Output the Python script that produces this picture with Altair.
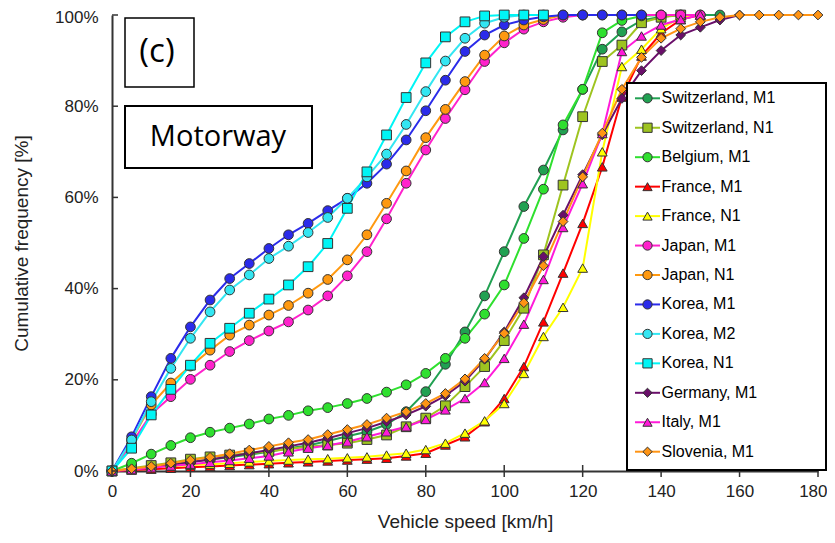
import altair as alt
import pandas as pd

SPEEDS = [0, 5, 10, 15, 20, 25, 30, 35, 40, 45, 50, 55, 60, 65, 70, 75, 80, 85, 90,
          95, 100, 105, 110, 115, 120, 125, 130, 135, 140, 145, 150, 155, 160, 165,
          170, 175, 180]

SERIES = ["Switzerland, M1", "Switzerland, N1", "Belgium, M1", "France, M1", "France, N1",
          "Japan, M1", "Japan, N1", "Korea, M1", "Korea, M2", "Korea, N1",
          "Germany,  M1", "Italy,  M1", "Slovenia,  M1"]
COLORS = ["#21a152", "#9ec420", "#2fe02f", "#ff0000", "#ffff00",
          "#ff22cc", "#ff9910", "#2b2bea", "#33e6f2", "#00f5f5",
          "#6a0f6a", "#ff1ad9", "#ff9414"]
SHAPES = ["circle", "square", "circle", "triangle-up", "triangle-up",
          "circle", "circle", "circle", "circle", "square",
          "diamond", "triangle-up", "diamond"]

SWITZERLAND_M1 = [0, 0.5, 1.0, 1.5, 2.0, 2.5, 3.0, 3.6, 4.2, 5.0, 5.6, 6.6, 7.6, 8.6, 10.2, 13.0,
                  17.4, 23.4, 30.5, 38.4, 48.1, 58.0, 66.0, 74.8, 83.7, 92.5, 96.3, 98.8, 99.6,
                  100, 100, 100]
SWITZERLAND_N1 = [0, 0.6, 1.2, 1.8, 2.6, 3.1, 3.5, 3.9, 4.3, 4.8, 5.3, 5.7, 6.1, 6.9, 7.9, 9.7,
                  11.6, 14.3, 18.5, 22.9, 28.6, 35.7, 47.4, 62.7, 77.7, 89.8, 93.4, 98.3, 99.5, 100]
BELGIUM_M1 = [0, 1.7, 3.7, 5.6, 7.3, 8.5, 9.4, 10.3, 11.4, 12.2, 13.2, 13.9, 14.8, 15.9, 17.3,
              18.9, 21.4, 24.7, 29.1, 34.4, 40.8, 51.0, 61.8, 75.9, 83.7, 96.1, 98.8, 99.8, 100]
FRANCE_M1 = [0, 0.2, 0.4, 0.6, 0.8, 1.0, 1.2, 1.4, 1.6, 1.8, 2.0, 2.2, 2.4, 2.6, 2.8, 3.3, 3.9,
             5.7, 7.5, 10.8, 15.9, 22.9, 32.7, 43.4, 54.3, 66.7, 82.0, 91.0, 96.0, 99.0, 100]
FRANCE_N1 = [0, 0.5, 0.8, 1.0, 1.3, 1.5, 1.7, 2.0, 2.2, 2.4, 2.6, 2.7, 2.9, 3.1, 3.5, 3.9, 4.7,
             6.1, 8.3, 11.0, 14.8, 21.4, 29.5, 35.9, 44.5, 70.0, 88.7, 92.5, 97.0, 99.5, 100]
JAPAN_M1 = [0, 6.0, 12.5, 16.3, 20.1, 23.2, 26.2, 28.6, 30.7, 32.7, 35.3, 38.4, 42.8, 48.1, 55.3,
            63.1, 70.4, 77.3, 83.6, 89.8, 93.9, 96.9, 98.5, 99.5, 100, 100, 100, 100, 100, 100, 100]
JAPAN_N1 = [0, 6.8, 14.5, 19.3, 23.0, 26.5, 29.8, 32.0, 34.2, 36.3, 39.0, 42.0, 46.3, 51.8, 58.7,
            65.8, 73.1, 79.3, 85.4, 91.2, 95.4, 97.8, 99.0, 100, 100]
KOREA_M1 = [0, 7.5, 16.3, 24.7, 31.6, 37.5, 42.2, 45.5, 48.8, 51.8, 54.3, 57.1, 59.8, 63.1, 67.3,
            72.6, 79.0, 85.7, 92.0, 95.6, 97.8, 98.9, 99.6, 100, 100, 100, 100, 100]
KOREA_M2 = [0, 6.8, 15.2, 22.5, 29.1, 34.9, 39.7, 43.0, 46.6, 49.3, 52.3, 55.6, 59.8, 64.5, 69.5,
            76.0, 83.2, 89.9, 94.9, 98.2, 99.5, 100, 100]
KOREA_N1 = [0, 5.0, 12.3, 17.9, 23.2, 28.0, 31.3, 34.6, 37.7, 40.8, 44.8, 49.9, 57.6, 65.6, 73.7,
            81.9, 89.5, 95.2, 98.5, 99.8, 100, 100, 100]
GERMANY_M1 = [0, 0.4, 0.8, 1.3, 1.9, 2.5, 3.2, 3.9, 4.6, 5.4, 6.2, 7.2, 8.3, 9.4, 10.8, 12.3, 14.2,
              16.5, 19.7, 24.5, 30.5, 38.0, 47.0, 56.1, 65.0, 73.7, 81.7, 87.8, 92.2, 95.6, 97.3,
              98.9, 100]
ITALY_M1 = [0, 0.3, 0.7, 1.1, 1.5, 1.9, 2.3, 2.8, 3.3, 4.2, 5.0, 5.6, 6.4, 7.5, 8.6, 9.7, 11.3,
            13.4, 15.9, 19.4, 24.7, 32.2, 42.0, 53.4, 63.0, 74.0, 92.0, 95.4, 97.8, 99.0, 100]
SLOVENIA_M1 = [0, 0.5, 1.0, 1.7, 2.4, 3.0, 3.8, 4.6, 5.4, 6.2, 6.9, 8.0, 9.1, 10.2, 11.6, 13.0,
               14.8, 17.0, 20.2, 24.7, 30.2, 36.9, 45.0, 54.7, 64.5, 74.1, 83.7, 90.7, 94.9, 97.0,
               98.5, 99.5, 100, 100, 100, 100, 100]

VALUES = [SWITZERLAND_M1, SWITZERLAND_N1, BELGIUM_M1, FRANCE_M1, FRANCE_N1, JAPAN_M1, JAPAN_N1,
          KOREA_M1, KOREA_M2, KOREA_N1, GERMANY_M1, ITALY_M1, SLOVENIA_M1]

X_TICKS = [0, 20, 40, 60, 80, 100, 120, 140, 160, 180]
Y_TICKS = [0, 20, 40, 60, 80, 100]

rows = []
for k, (name, vals) in enumerate(zip(SERIES, VALUES)):
    for s, v in zip(SPEEDS, vals):
        rows.append({"series": name, "speed": s, "pct": v, "k": k})
df = pd.DataFrame(rows)

color_scale = alt.Scale(domain=SERIES, range=COLORS)
shape_scale = alt.Scale(domain=SERIES, range=SHAPES)

FONT = "Liberation Sans"

x_enc = alt.X("speed:Q", scale=alt.Scale(domain=[0, 180], nice=False),
              axis=alt.Axis(values=X_TICKS, title="Vehicle speed [km/h]", ticks=False,
                            labelPadding=12, titlePadding=13, grid=False, labelFlush=False,
                            labelAlign={"expr": "datum.value == 180 ? 'right' : 'center'"},
                            labelOffset={"expr": "datum.value == 180 ? 9 : 0"}))
y_enc = alt.Y("pct:Q", scale=alt.Scale(domain=[0, 100], nice=False),
              axis=alt.Axis(values=Y_TICKS, title="Cumulative frequency [%]", ticks=False,
                            labelExpr="datum.value + '%'", labelPadding=14, titlePadding=23,
                            grid=False, labelFlush=False,
                            labelOffset={"expr": "datum.value == 100 ? 2 : 0"}))

lines = alt.Chart(df).mark_line(strokeWidth=2).encode(
    x=x_enc, y=y_enc,
    color=alt.Color("series:N", scale=color_scale, legend=None),
    order="speed:Q",
)
points = alt.Chart(df).mark_point(filled=True, size=95, stroke="#333333", strokeWidth=1,
                                  opacity=1).encode(
    x=x_enc, y=y_enc,
    fill=alt.Fill("series:N", scale=color_scale, legend=None),
    shape=alt.Shape("series:N", scale=shape_scale, legend=None),
    order="k:Q",
)

xt = alt.Chart(pd.DataFrame({"speed": X_TICKS})).mark_rule(color="#333333", strokeWidth=1.5).encode(
    x=x_enc, y=alt.value(450), y2=alt.value(462))
yt = alt.Chart(pd.DataFrame({"pct": Y_TICKS})).mark_rule(color="#333333", strokeWidth=1.5).encode(
    y=y_enc, x=alt.value(0), x2=alt.value(6))

one = pd.DataFrame({"a": [0]})
leg_box = alt.Chart(one).mark_rect(fill="white", stroke="black", strokeWidth=2).encode(
    x=alt.value(515), x2=alt.value(714), y=alt.value(68), y2=alt.value(455))
c_box = alt.Chart(one).mark_rect(fill="white", stroke="black", strokeWidth=1.5).encode(
    x=alt.value(13), x2=alt.value(82), y=alt.value(3), y2=alt.value(72))
m_box = alt.Chart(one).mark_rect(fill="white", stroke="black", strokeWidth=2).encode(
    x=alt.value(13), x2=alt.value(200), y=alt.value(91), y2=alt.value(153))
c_txt = alt.Chart(pd.DataFrame({"t": ["(c)"]})).mark_text(
    font="Open Sans", fontSize=33, align="center", baseline="middle", color="black").encode(
    x=alt.value(45), y=alt.value(37), text="t:N")
m_txt = alt.Chart(pd.DataFrame({"t": ["Motorway"]})).mark_text(
    font="Open Sans", fontSize=29, align="center", baseline="middle", color="black").encode(
    x=alt.value(106), y=alt.value(122), text="t:N")

leg_df = pd.DataFrame({"series": SERIES, "idx": list(range(len(SERIES)))})
leg_y = alt.Y("idx:Q", scale=alt.Scale(domain=[0, 12], range=[83.3, 436.7], nice=False, zero=False),
              axis=None)
leg_rule = alt.Chart(leg_df).mark_rule(strokeWidth=2).encode(
    y=leg_y, x=alt.value(523), x2=alt.value(548),
    color=alt.Color("series:N", scale=color_scale, legend=None))
leg_pt = alt.Chart(leg_df).mark_point(filled=True, size=85, stroke="#333333", strokeWidth=1,
                                      opacity=1).encode(
    y=leg_y, x=alt.value(535.5),
    fill=alt.Fill("series:N", scale=color_scale, legend=None),
    shape=alt.Shape("series:N", scale=shape_scale, legend=None))
leg_txt = alt.Chart(leg_df).mark_text(font=FONT, fontSize=16, align="left", baseline="middle",
                                      color="black", dx=0).encode(
    y=leg_y, x=alt.value(549.5), text="series:N")

main = alt.layer(lines, points, xt, yt)
legend = alt.layer(leg_rule, leg_pt, leg_txt)

chart = alt.layer(
    main, leg_box, c_box, m_box, c_txt, m_txt, legend
).resolve_scale(y="independent").properties(
    width=706, height=456,
    padding={"left": 104, "top": 7, "right": 9, "bottom": 64},
    autosize=alt.AutoSizeParams(type="none"),
).configure_view(stroke=None).configure_axis(
    domainColor="#333333", domainWidth=2, labelFont=FONT, labelFontSize=17,
    labelColor="#222222", titleFont=FONT, titleFontSize=19, titleFontWeight="normal",
    titleColor="#222222",
)

chart.save("out.html", embed_options={"renderer": "svg", "actions": False})
